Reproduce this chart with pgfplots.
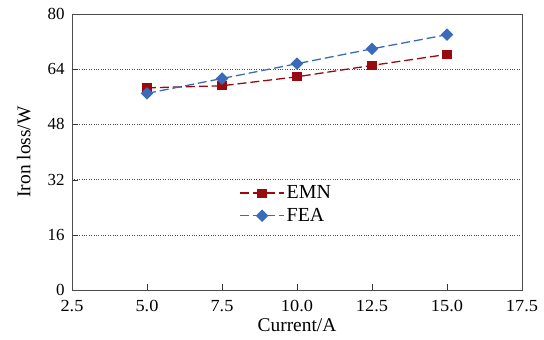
\documentclass[border=0pt]{standalone}
\usepackage{fontspec}
\setmainfont{Liberation Serif}
\usepackage{pgfplots}
\pgfplotsset{compat=1.18}
\definecolor{emn}{HTML}{990A0E}
\definecolor{fea}{HTML}{3A6BBA}
\begin{document}
\begin{tikzpicture}
\path[use as bounding box] (-72bp,-50bp) rectangle (472bp,290bp);
\begin{axis}[
  at={(0,0)}, anchor=south west,
  scale only axis, width=450bp, height=276bp,
  xmin=2.5, xmax=17.5, ymin=0, ymax=80,
  xtick={2.5,5,7.5,10,12.5,15,17.5}, ytick={0,16,32,48,64,80},
  xticklabels={2.5,5.0,7.5,10.0,12.5,15.0,17.5},
  yticklabels={0,16,32,48,64,80},
  tick label style={font=\fontsize{17}{19}\selectfont},
  xticklabel style={xscale=1.08, yshift=-7pt},
  yticklabel style={xshift=-4pt},
  label style={font=\fontsize{19.5}{22}\selectfont},
  xlabel={Current/A}, ylabel={Iron loss/W},
  xlabel style={yshift=0pt},
  ylabel style={yshift=10pt},
  axis line style={draw=black!70},
  tick style={draw=black!80, major tick length=6pt},
  tick align=inside,
  xtick pos=bottom, ytick pos=left,
  ymajorgrids, grid style={dotted, black!70, line width=0.6pt},
  legend style={draw=none, fill=none, at={(0.365,0.31)}, anchor=west,
    font=\fontsize{20}{22}\selectfont, row sep=4pt},
  legend cell align=left,
  legend image code/.code={\draw[mark repeat=2, mark phase=2, #1] plot coordinates {(0bp,0bp) (22bp,0bp) (44bp,0bp)};},
]
\addplot[emn, line width=1.3pt, dash pattern=on 9pt off 4pt, mark=square*, mark size=4pt, mark options={solid}]
  coordinates {(5,58.6) (7.5,59.2) (10,61.8) (12.5,65.1) (15,68.3)};
\addlegendentry{EMN}
\addplot[fea, line width=1.3pt, dash pattern=on 9pt off 4pt, mark=square*, mark size=3.8pt, mark options={solid, rotate=45}]
  coordinates {(5,57.0) (7.5,61.3) (10,65.6) (12.5,69.9) (15,74.0)};
\addlegendentry{FEA}
\end{axis}
\end{tikzpicture}
\end{document}
